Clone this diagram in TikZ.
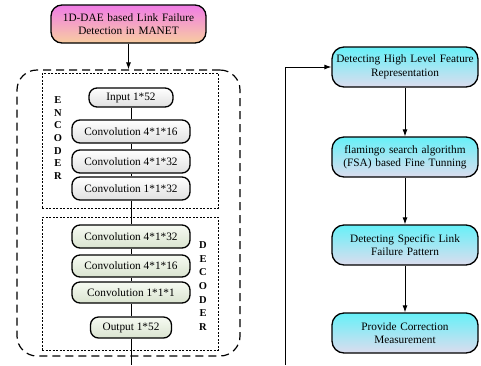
\documentclass[tikz,border=0pt]{standalone}
\usepackage{fontspec}
\setmainfont{Liberation Serif}
\usetikzlibrary{arrows.meta}
\definecolor{pinktop}{HTML}{F07CE6}
\definecolor{peachbot}{HTML}{F8CDA0}
\definecolor{cyantop}{HTML}{66F0F8}
\definecolor{lavbot}{HTML}{DCDCEE}
\definecolor{encgray}{HTML}{E0E0E0}
\definecolor{dectop}{HTML}{F6FAF2}
\definecolor{decbot}{HTML}{DAE4D0}
\begin{document}
\begin{tikzpicture}[x=1pt,y=-1pt,
  box/.style={draw=black, line width=1.3pt, rounded corners=8pt, inner sep=0pt, align=center,
    font=\fontsize{11.3}{13.5}\selectfont},
  encbox/.style={box, top color=white, bottom color=encgray, minimum height=23pt, minimum width=118pt},
  decbox/.style={box, top color=dectop, bottom color=decbot, minimum height=22pt, minimum width=118pt},
  rightbox/.style={box, rounded corners=12pt, top color=cyantop, bottom color=lavbot,
    minimum width=146pt, minimum height=40pt, text width=142pt},
  titlebox/.style={box, rounded corners=11pt, top color=pinktop, bottom color=peachbot,
    minimum width=155pt, minimum height=38pt, text width=150pt},
  outerbox/.style={draw=black, line width=1.2pt, dash pattern=on 8pt off 5pt, rounded corners=20pt, inner sep=0pt},
  innerbox/.style={draw=black, line width=0.6pt, dash pattern=on 2pt off 1.5pt, inner sep=0pt},
  letters/.style={font=\bfseries\fontsize{10.5}{12.7}\selectfont, align=center, inner sep=0pt},
  conn/.style={draw=black, line width=0.9pt},
  arr/.style={conn, -{Latex[length=7pt,width=5pt]}}
]
\useasboundingbox (0,0) rectangle (481,365);

% left panel containers
\node[outerbox, minimum width=223pt, minimum height=286pt] (outer) at (128.5,213) {};
\node[innerbox, minimum width=176pt, minimum height=135pt] (encbx) at (130,140.5) {};
\node[innerbox, minimum width=176pt, minimum height=133pt] (decbx) at (130,283.5) {};

% title
\node[titlebox] (title) at (128.5,24) {1D-DAE based Link Failure\\Detection in MANET};
\draw[arr] (title.south) -- (outer.north);

% encoder
\node[encbox, minimum width=84pt, minimum height=19pt] (in) at (131,97.5) {Input 1*52};
\node[encbox] (e1) at (131,131.5) {Convolution 4*1*16};
\node[encbox] (e2) at (131,161.5) {Convolution 4*1*32};
\node[encbox] (e3) at (131,188.5) {Convolution 1*1*32};
% decoder
\node[decbox, minimum height=23pt] (d1) at (131,236.5) {Convolution 4*1*32};
\node[decbox] (d2) at (131,266) {Convolution 4*1*16};
\node[decbox, minimum height=21pt] (d3) at (131,292.5) {Convolution 1*1*1};
\node[decbox, minimum width=81pt, minimum height=21pt] (out) at (131,327.5) {Output 1*52};
\coordinate (lbot) at (131,365);

\draw[conn] (in) -- (e1) (e1) -- (e2) (e2) -- (e3) (e3) -- (d1) (d1) -- (d2) (d2) -- (d3) (d3) -- (out) (out) -- (lbot);

\node[letters] (enc) at (58,138) {E\\N\\C\\O\\D\\E\\R};
\node[letters, font=\bfseries\fontsize{10.5}{13.7}\selectfont] (dec) at (203,286) {D\\E\\C\\O\\D\\E\\R};

% right panel
\node[rightbox] (r1) at (405,67) {Detecting High Level Feature\\Representation};
\node[rightbox] (r2) at (405,157) {flamingo search algorithm\\(FSA) based Fine Tunning};
\node[rightbox] (r3) at (405,245) {Detecting Specific Link\\Failure Pattern};
\node[rightbox] (r4) at (405,333) {Provide Correction\\Measurement};
\coordinate (fb) at (285,365);
\coordinate (ft) at (285,67);
\draw[arr] (fb) -- (ft) -- (r1.west);
\draw[arr] (r1) -- (r2);
\draw[arr] (r2) -- (r3);
\draw[arr] (r3) -- (r4);
\end{tikzpicture}
\end{document}
